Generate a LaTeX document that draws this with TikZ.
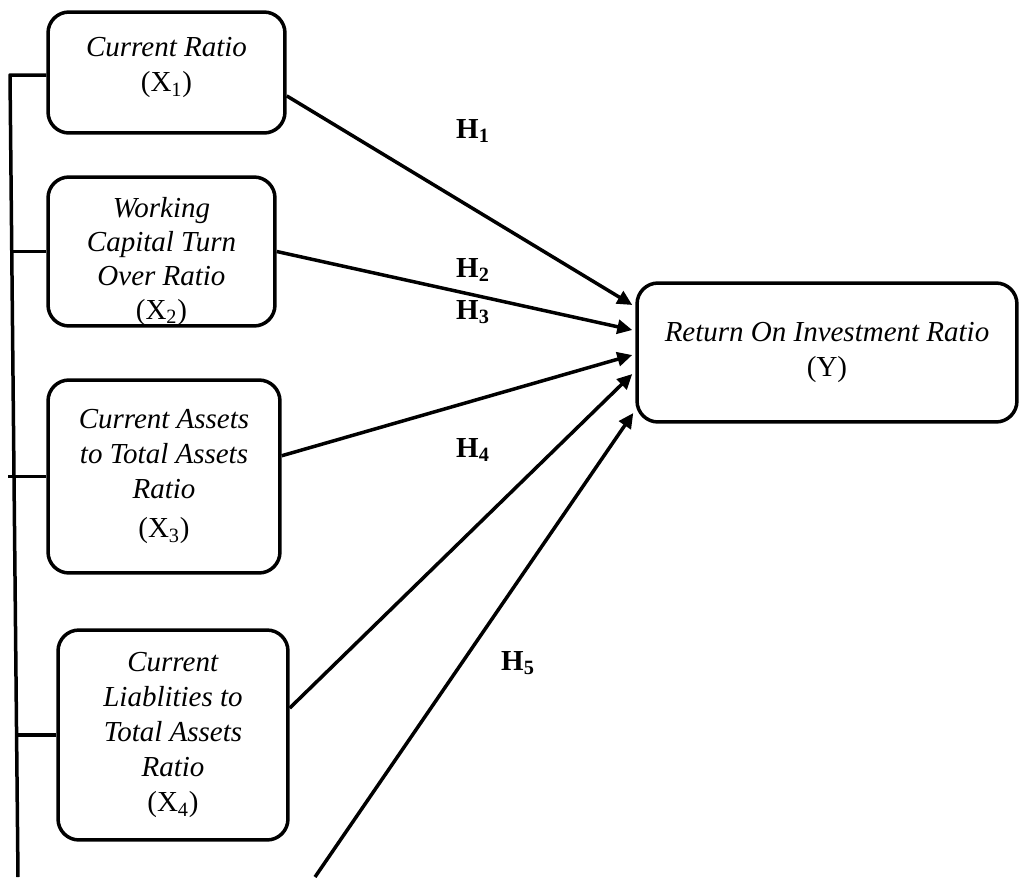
\documentclass[tikz,border=0pt]{standalone}
\usepackage{fontspec}
\setmainfont{Liberation Serif}
\usetikzlibrary{arrows.meta,calc}

\tikzset{
  ratiobox/.style={draw,line width=0.07cm,rounded corners=0.42cm,align=center,
    inner sep=0pt,font=\fontsize{16.5}{20}\selectfont},
  hyplabel/.style={font=\fontsize{16.5}{20}\selectfont\bfseries},
  linkarrow/.style={-{Triangle[length=0.3cm,width=0.28cm]},line width=0.07cm},
  busline/.style={line width=0.07cm}
}

\begin{document}
\begin{tikzpicture}[x=0.02cm,y=-0.02cm,line join=round]
  \useasboundingbox (0,0) rectangle (1019,877);
  % independent variables
  \node[ratiobox,minimum width=4.74cm,minimum height=2.42cm] (cr) at (166.5,72.5)
    {\textit{Current Ratio}\\(X\textsubscript{1})\rule[-0.32cm]{0pt}{0pt}};
  \node[ratiobox,minimum width=4.54cm,minimum height=2.98cm,
    font=\fontsize{16.5}{19.3}\selectfont] (wctor) at (161.5,251.5)
    {\rule{0pt}{0.8cm}\textit{Working}\\\textit{Capital Turn}\\\textit{Over Ratio}\\(X\textsubscript{2})};
  \node[ratiobox,minimum width=4.64cm,minimum height=3.86cm] (catta) at (164,476.5)
    {\textit{Current Assets}\\\textit{to Total Assets}\\\textit{Ratio}\\[2pt](X\textsubscript{3})};
  \node[ratiobox,minimum width=4.6cm,minimum height=4.2cm] (cltta) at (173,735)
    {\textit{Current}\\\textit{Liablities to}\\\textit{Total Assets}\\\textit{Ratio}\\(X\textsubscript{4})};
  % dependent variable
  \node[ratiobox,minimum width=7.6cm,minimum height=2.78cm] (roi) at (827,352.5)
    {\textit{Return On Investment Ratio}\\(Y)};
  % bus on the left
  \coordinate (bustop) at (10,75);
  \coordinate (busbot) at (18,877);
  \coordinate (xfive) at (315,877);
  \draw[busline] (bustop -| cr.west) -- (bustop) -- (busbot);
  \draw[busline] (wctor.west) -- (wctor.west -| bustop);
  \draw[busline] (catta.west) -- ++(-38,0);
  \draw[busline] (cltta.west) -- (cltta.west -| busbot);
  % hypotheses
  \draw[linkarrow] (cr.-11.7) -- ($(roi.west)+(-3,-47.5)$);
  \draw[linkarrow] (wctor.east) -- ($(roi.west)+(-3,-22.5)$);
  \draw[linkarrow] (catta.10.5) -- ($(roi.west)+(-3,2.5)$);
  \draw[linkarrow] (cltta.13.2) -- ($(roi.west)+(-3,21.5)$);
  \draw[linkarrow] (xfive) -- ($(roi.west)+(-2,60.5)$);
  \node[hyplabel] (h1) at (473,131) {H\textsubscript{1}};
  \node[hyplabel] (h2) at (473,270) {H\textsubscript{2}};
  \node[hyplabel] (h3) at (473,312) {H\textsubscript{3}};
  \node[hyplabel] (h4) at (473,450) {H\textsubscript{4}};
  \node[hyplabel] (h5) at (518,663) {H\textsubscript{5}};
\end{tikzpicture}
\end{document}
